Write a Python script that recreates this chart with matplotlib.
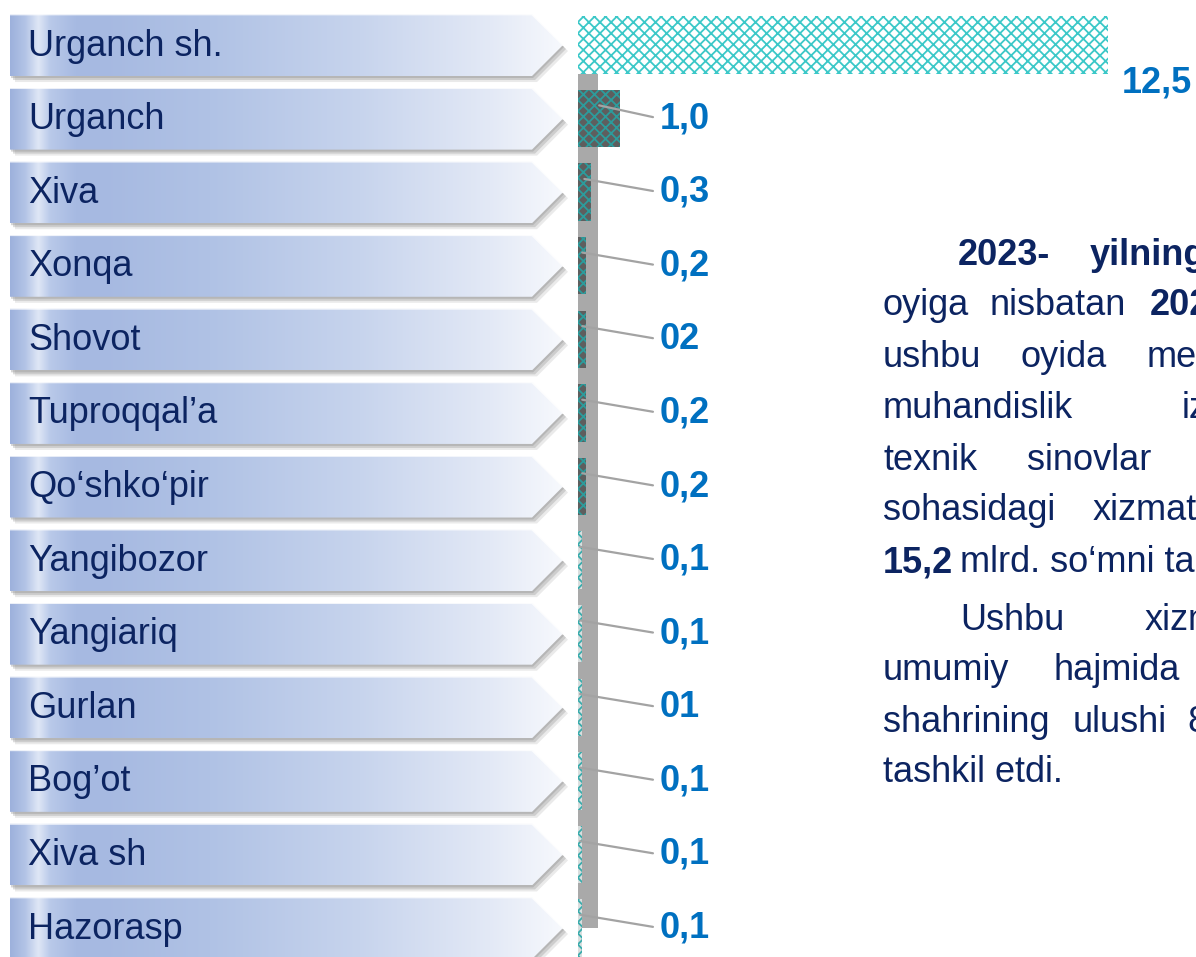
import numpy as np
import matplotlib
matplotlib.use("Agg")
import matplotlib.pyplot as plt
from matplotlib.patches import Polygon, Rectangle
from matplotlib.colors import to_rgb

# ---------------- data ----------------
categories = ["Urganch sh.", "Urganch", "Xiva", "Xonqa", "Shovot", "Tuproqqal\u2019a",
              "Qo\u2018shko\u2018pir", "Yangibozor", "Yangiariq", "Gurlan", "Bog\u2019ot",
              "Xiva sh", "Hazorasp"]
values = [12.5, 1.0, 0.3, 0.2, 0.2, 0.2, 0.2, 0.1, 0.1, 0.1, 0.1, 0.1, 0.1]
value_labels = ["12,5", "1,0", "0,3", "0,2", "02", "0,2", "0,2",
                "0,1", "0,1", "01", "0,1", "0,1", "0,1"]
bar_groups = ["top"] + ["dark"] * 6 + ["light"] * 6

text_lines = [
    [("2023-", True, 958), ("yilning", True, 1090)],
    [("oyiga", False, 883), ("nisbatan", False, 990), ("202", True, 1150)],
    [("ushbu", False, 883), ("oyida", False, 1020), ("me", False, 1147)],
    [("muhandislik", False, 883), ("iz", False, 1182)],
    [("texnik", False, 883), ("sinovlar", False, 1027)],
    [("sohasidagi", False, 883), ("xizmat", False, 1093)],
    [("15,2", True, 883), ("mlrd. so\u2018mni ta", False, 960)],
    [("Ushbu", False, 960), ("xizm", False, 1145)],
    [("umumiy", False, 883), ("hajmida", False, 1053)],
    [("shahrining", False, 883), ("ulushi", False, 1073), ("8", False, 1187)],
    [("tashkil etdi.", False, 883)],
]
text_baselines = [265, 315, 367, 418, 470, 520, 572, 630, 680, 732, 782]

# ---------------- style ----------------
FONT = "Liberation Sans"
plt.rcParams["font.family"] = [FONT, "DejaVu Sans"]
plt.rcParams["hatch.linewidth"] = 1.3
NAVY = "#0c2461"
VALUE_BLUE = "#0070c0"
styles = {
    "top": dict(face="#ffffff", hatch="#3cc8c8"),
    "dark": dict(face="#5e5e5e", hatch="#2c9c9c"),
    "light": dict(face="#d9dede", hatch="#3aacac"),
}

W, H = 1196, 957
fig = plt.figure(figsize=(W / 100, H / 100), dpi=100)
fig.patch.set_facecolor("white")

# background axes in pixel coordinates (y down)
bg = fig.add_axes([0, 0, 1, 1])
bg.set_xlim(0, W)
bg.set_ylim(H, 0)
bg.set_autoscale_on(False)
bg.axis("off")

# bar axes
x0_px, x1_px = 578, 1108
ax = fig.add_axes([x0_px / W, 0, (x1_px - x0_px) / W, 1])
ax.set_xlim(0, 12.5)
ax.set_ylim(12.394, -0.612)
ax.axis("off")

rows = np.arange(len(categories))


def row_to_px(r):
    disp = ax.transData.transform((0, r))
    return bg.transData.inverted().transform(disp)[1]


# ---------------- arrow-shaped category boxes ----------------
stops_x = [0, 15, 28, 40, 65, 90, 200, 350, 480, 553]
stops_c = ["#9db1dc", "#b3c4e6", "#dfe7f6", "#b9c9e9", "#a7bae2", "#a6b9e1",
           "#b0c2e5", "#c7d4ed", "#e3e9f6", "#f7f9fd"]
N = 600
gx = np.linspace(0, 553, N)
cols = np.array([to_rgb(c) for c in stops_c])
grad = np.stack([np.interp(gx, stops_x, cols[:, k]) for k in range(3)], axis=-1)[None, :, :]

bx0, bx1, btip, half = 10, 532, 563, 31
for r, name in zip(rows, categories):
    cy = row_to_px(r)
    pts = [(bx0, cy - half), (bx1, cy - half), (btip, cy), (bx1, cy + half), (bx0, cy + half)]
    for off, a in [((5, 6), 0.18), ((3, 4), 0.30), ((1, 2), 0.35)]:
        sh = Polygon([(x + off[0], y + off[1]) for x, y in pts], closed=True,
                     facecolor="#8c8c8c", edgecolor="none", alpha=a, zorder=1)
        bg.add_patch(sh)
    poly = Polygon(pts, closed=True, facecolor="none", edgecolor="none", zorder=2)
    bg.add_patch(poly)
    im = bg.imshow(grad, extent=(bx0, btip, cy + half, cy - half), aspect="auto",
                   zorder=2, interpolation="bilinear")
    im.set_clip_path(poly)
    bg.plot([bx0, bx1, btip], [cy - half + 0.5, cy - half + 0.5, cy], color="white",
            lw=1.2, alpha=0.8, zorder=3)
    bg.text(28, cy + 1, name, ha="left", va="center", fontsize=26, color=NAVY,
            family=FONT, zorder=4)

# ---------------- right side text ----------------
for words, yb in zip(text_lines, text_baselines):
    for s, bold, x in words:
        bg.text(x, yb, s, ha="left", va="baseline", fontsize=26, color=NAVY,
                fontweight="bold" if bold else "normal", family=FONT, zorder=4)

# ---------------- bars ----------------
ax.add_patch(Rectangle((-0.08, -0.3), 0.55, 12.3, facecolor="#a9a9a9",
                       edgecolor="none", zorder=1))
faces = [styles[g]["face"] for g in bar_groups]
hcols = [styles[g]["hatch"] for g in bar_groups]
bars = ax.barh(rows, values, height=0.78, color=faces, edgecolor=hcols,
               linewidth=0, zorder=2)
for b in bars:
    b.set_hatch("xxx")

# value labels
for r, v, lbl in zip(rows, values, value_labels):
    if r == 0:
        ax.annotate(lbl, xy=(v, r), xytext=(10, -27), textcoords="offset points",
                    ha="left", va="center", fontsize=26, fontweight="bold",
                    color=VALUE_BLUE, annotation_clip=False, zorder=5)
    else:
        ax.annotate(lbl, xy=(v / 2, r - 0.18), xytext=(1.93, r),
                    textcoords="data", ha="left", va="center", fontsize=26,
                    fontweight="bold", color=VALUE_BLUE, annotation_clip=False,
                    zorder=5,
                    arrowprops=dict(arrowstyle="-", color="#a3a3a3", lw=1.6,
                                    relpos=(0, 0.5), shrinkA=3, shrinkB=0))

fig.savefig("out.png", dpi=100, facecolor="white")
